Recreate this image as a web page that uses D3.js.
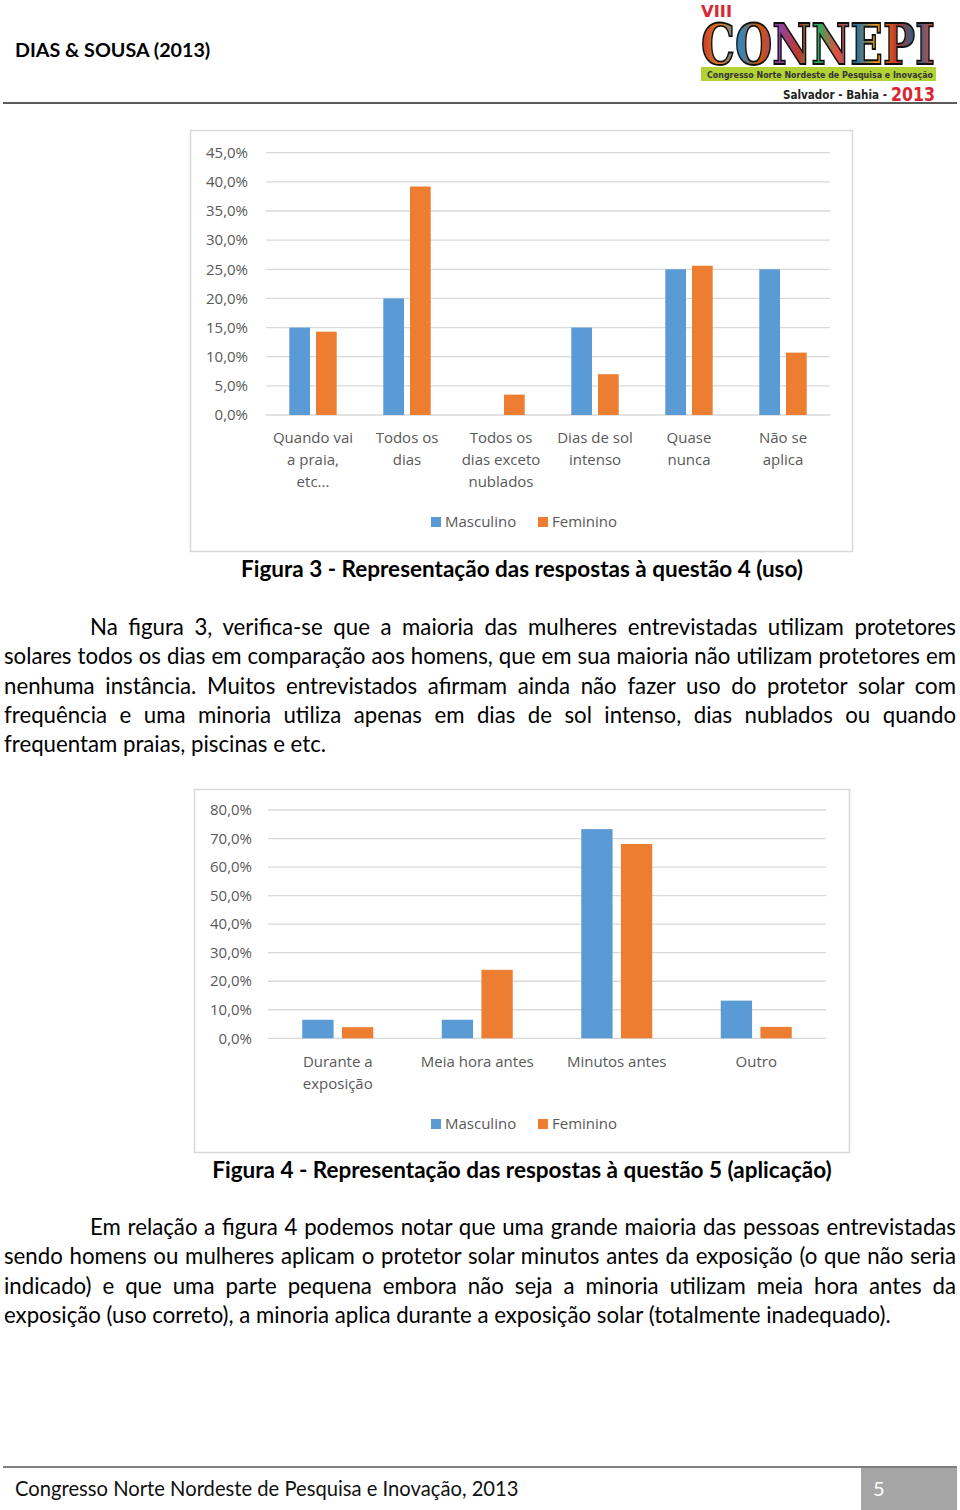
<!DOCTYPE html>
<html>
<head>
<meta charset="utf-8">
<script src="https://cdn.jsdelivr.net/npm/d3@7"></script>
<style>
  body { margin: 0; background: #fff; }
  #page { position: relative; width: 960px; height: 1510px; overflow: hidden; }
  #page svg { position: absolute; left: 0; top: 0; }
  .para-line { position: absolute; white-space: nowrap; font-family: Lato, sans-serif; color: #000;
    text-align: justify; text-align-last: justify; }
  .para-line.last { text-align: left; text-align-last: left; }
</style>
</head>
<body>
<div id="page"></div>
<script>
// Figura 3 - questão 4 (uso)
const cats1 = [["Quando vai", "a praia,", "etc..."], ["Todos os", "dias"], ["Todos os", "dias exceto", "nublados"],
  ["Dias de sol", "intenso"], ["Quase", "nunca"], ["Não se", "aplica"]];
const masc1 = [15.0, 20.0, 0, 15.0, 25.0, 25.0];
const fem1 = [14.3, 39.2, 3.5, 7.0, 25.6, 10.7];
const ticks1 = [0, 5, 10, 15, 20, 25, 30, 35, 40, 45];

// Figura 4 - questão 5 (aplicação)
const cats2 = [["Durante a", "exposição"], ["Meia hora antes"], ["Minutos antes"], ["Outro"]];
const masc2 = [6.5, 6.5, 73.3, 13.2];
const fem2 = [3.9, 24.0, 68.1, 4.0];
const ticks2 = [0, 10, 20, 30, 40, 50, 60, 70, 80];

const seriesNames = ["Masculino", "Feminino"];
const colors = ["#5b9bd5", "#ed7d31"];

const para1 = [
  "Na figura 3, verifica-se que a maioria das mulheres entrevistadas utilizam protetores",
  "solares todos os dias em comparação aos homens, que em sua maioria não utilizam protetores em",
  "nenhuma instância. Muitos entrevistados afirmam ainda não fazer uso do protetor solar com",
  "frequência e uma minoria utiliza apenas em dias de sol intenso, dias nublados ou quando",
  "frequentam praias, piscinas e etc."
];
const para2 = [
  "Em relação a figura 4 podemos notar que uma grande maioria das pessoas entrevistadas",
  "sendo homens ou mulheres aplicam o protetor solar minutos antes da exposição (o que não seria",
  "indicado) e que uma parte pequena embora não seja a minoria utilizam meia hora antes da",
  "exposição (uso correto), a minoria aplica durante a exposição solar (totalmente inadequado)."
];

const page = d3.select('#page');
const svg = page.append('svg').attr('width', 960).attr('height', 1510);

const fmt = v => d3.format('.1f')(v).replace('.', ',') + '%';

// Header
svg.append('text').attr('x', 15).attr('y', 57)
  .attr('font-family', 'Lato, sans-serif').attr('font-weight', 700).attr('font-size', 19.7)
  .text('DIAS & SOUSA (2013)');
svg.append('line').attr('x1', 3).attr('x2', 957).attr('y1', 103).attr('y2', 103)
  .attr('stroke', '#222').attr('stroke-width', 1.5);

drawLogo();

// Charts
drawChart({
  frame: [190.5, 130.5, 662, 421],
  x0: 266, x1: 830, yBase: 415, yTop: 152.7, yMax: 45,
  ticks: ticks1, labelX: 248, cats: cats1, values: [masc1, fem1],
  groupWidth: 47.4, pad: 0.225, labelY: 443, legendY: 522
});
drawChart({
  frame: [194.5, 789.5, 655, 363],
  x0: 268, x1: 826, yBase: 1038.3, yTop: 810, yMax: 80,
  ticks: ticks2, labelX: 252, cats: cats2, values: [masc2, fem2],
  groupWidth: 71, pad: 0.21, labelY: 1067, legendY: 1124
});

// Captions
svg.append('text').attr('x', 522).attr('y', 577).attr('text-anchor', 'middle')
  .attr('font-family', 'Lato, sans-serif').attr('font-weight', 700).attr('font-size', 22.5)
  .text('Figura 3 - Representação das respostas à questão 4 (uso)');
svg.append('text').attr('x', 522).attr('y', 1178).attr('text-anchor', 'middle')
  .attr('font-family', 'Lato, sans-serif').attr('font-weight', 700).attr('font-size', 22.5)
  .text('Figura 4 - Representação das respostas à questão 5 (aplicação)');

// Paragraphs
const paraSize = fitSize([para1, para2], 22.6);
drawParagraph(para1, 613, paraSize);
drawParagraph(para2, 1213, paraSize);

// Footer
svg.append('line').attr('x1', 3).attr('x2', 957).attr('y1', 1467).attr('y2', 1467)
  .attr('stroke', '#808080').attr('stroke-width', 2);
svg.append('rect').attr('x', 861).attr('y', 1468).attr('width', 96).attr('height', 42).attr('fill', '#a5a5a5');
svg.append('text').attr('x', 873).attr('y', 1496)
  .attr('font-family', 'Lato, sans-serif').attr('font-size', 20).attr('fill', '#fff').text('5');
svg.append('text').attr('x', 15).attr('y', 1496)
  .attr('font-family', 'Lato, sans-serif').attr('font-size', 20.2).attr('fill', '#111')
  .text('Congresso Norte Nordeste de Pesquisa e Inovação, 2013');

function drawChart(c) {
  const g = svg.append('g');
  g.append('rect').attr('x', c.frame[0]).attr('y', c.frame[1])
    .attr('width', c.frame[2]).attr('height', c.frame[3])
    .attr('fill', '#fff').attr('stroke', '#d9d9d9').attr('stroke-width', 1.5);

  const y = d3.scaleLinear().domain([0, c.yMax]).range([c.yBase, c.yTop]);
  const x = d3.scaleBand().domain(d3.range(c.cats.length)).range([c.x0, c.x1]);
  const bw = x.bandwidth();
  const xs = d3.scaleBand().domain([0, 1])
    .range([bw / 2 - c.groupWidth / 2, bw / 2 + c.groupWidth / 2]).paddingInner(c.pad);

  // gridlines
  g.selectAll('.grid').data(c.ticks).enter().append('line')
    .attr('x1', c.x0).attr('x2', c.x1)
    .attr('y1', d => y(d)).attr('y2', d => y(d))
    .attr('stroke', '#d9d9d9').attr('stroke-width', 1.3);

  // y labels
  g.selectAll('.ylab').data(c.ticks).enter().append('text')
    .attr('x', c.labelX).attr('y', d => y(d)).attr('dy', '0.35em')
    .attr('text-anchor', 'end')
    .attr('font-family', '"Open Sans", sans-serif').attr('font-size', 15).attr('fill', '#595959')
    .text(fmt);

  // bars
  const groups = g.selectAll('.grp').data(c.cats).enter().append('g')
    .attr('transform', (d, i) => `translate(${x(i)},0)`);
  groups.selectAll('rect').data((d, i) => c.values.map((s, k) => ({ k, v: s[i] })))
    .enter().append('rect')
    .attr('x', d => xs(d.k)).attr('width', xs.bandwidth())
    .attr('y', d => y(d.v)).attr('height', d => c.yBase - y(d.v))
    .attr('fill', d => colors[d.k]);

  // category labels
  groups.append('text')
    .attr('text-anchor', 'middle')
    .attr('font-family', '"Open Sans", sans-serif').attr('font-size', 15).attr('fill', '#595959')
    .selectAll('tspan').data(d => d).enter().append('tspan')
    .attr('x', bw / 2).attr('y', (d, j) => c.labelY + j * 22)
    .text(d => d);

  // legend
  const leg = g.selectAll('.leg').data(seriesNames).enter().append('g')
    .attr('transform', (d, i) => `translate(${431 + i * 107},${c.legendY})`);
  leg.append('rect').attr('x', 0).attr('y', -5).attr('width', 10).attr('height', 10)
    .attr('fill', (d, i) => colors[i]);
  leg.append('text').attr('x', 14).attr('y', 0).attr('dy', '0.35em')
    .attr('font-family', '"Open Sans", sans-serif').attr('font-size', 15).attr('fill', '#595959')
    .text(d => d);
}

// largest font size at which every justified line still fits its width
function fitSize(paras, maxSize) {
  const probe = page.append('span').style('position', 'absolute').style('visibility', 'hidden')
    .style('white-space', 'nowrap').style('font-family', 'Lato, sans-serif').style('font-size', '100px');
  let size = maxSize;
  paras.forEach(lines => lines.forEach((t, i) => {
    if (i === lines.length - 1) return;
    const avail = i === 0 ? 956 - 90 : 952;
    probe.text(t);
    const w = probe.node().getBoundingClientRect().width;
    size = Math.min(size, avail / w * 100 * 0.995);
  }));
  probe.remove();
  return size;
}

function drawParagraph(lines, top, size) {
  lines.forEach((t, i) => {
    const left = i === 0 ? 90 : 4;
    page.append('div')
      .attr('class', 'para-line' + (i === lines.length - 1 ? ' last' : ''))
      .style('left', left + 'px').style('top', (top + i * 29.3) + 'px')
      .style('width', (956 - left) + 'px')
      .style('font-size', size + 'px')
      .text(t);
  });
}

function drawLogo() {
  const lg = svg.append('g');
  const defs = svg.append('defs');
  const grad = defs.append('linearGradient').attr('id', 'logo-grad')
    .attr('x1', '0%').attr('x2', '100%').attr('y1', '0%').attr('y2', '0%');
  const stops = ['#c0392b', '#e67e22', '#2e86c1', '#d35400', '#8e44ad', '#c0392b',
    '#27ae60', '#e74c3c', '#2471a3', '#f39c12', '#c0392b', '#1f618d', '#e74c3c'];
  stops.forEach((s, i) => grad.append('stop')
    .attr('offset', (i / (stops.length - 1) * 100) + '%').attr('stop-color', s));

  // green band first so it never hides the lettering
  lg.append('rect').attr('x', 701).attr('y', 67).attr('width', 235).attr('height', 14).attr('fill', '#b3d235');
  lg.append('text').attr('x', 701).attr('y', 17)
    .attr('font-family', '"DejaVu Sans", sans-serif').attr('font-weight', 700).attr('font-size', 16)
    .attr('fill', '#d7282f').attr('textLength', 31).attr('lengthAdjust', 'spacingAndGlyphs').text('VIII');
  lg.append('text').attr('x', 701).attr('y', 64)
    .attr('font-family', '"DejaVu Serif", serif').attr('font-weight', 700).attr('font-size', 56)
    .attr('fill', 'url(#logo-grad)').attr('stroke', '#111').attr('stroke-width', 1.8)
    .attr('textLength', 234).attr('lengthAdjust', 'spacingAndGlyphs').text('CONNEPI');
  lg.append('text').attr('x', 707).attr('y', 77.5)
    .attr('font-family', '"DejaVu Sans", sans-serif').attr('font-weight', 700).attr('font-size', 9)
    .attr('fill', '#333').attr('textLength', 226).attr('lengthAdjust', 'spacingAndGlyphs')
    .text('Congresso Norte Nordeste de Pesquisa e Inovação');
  lg.append('text').attr('x', 783).attr('y', 99)
    .attr('font-family', '"DejaVu Sans", sans-serif').attr('font-weight', 700).attr('font-size', 11.5)
    .attr('fill', '#222').attr('textLength', 104).attr('lengthAdjust', 'spacingAndGlyphs')
    .text('Salvador - Bahia -');
  lg.append('text').attr('x', 891).attr('y', 101)
    .attr('font-family', '"DejaVu Sans", sans-serif').attr('font-weight', 700).attr('font-size', 19)
    .attr('fill', '#d7282f').attr('textLength', 44).attr('lengthAdjust', 'spacingAndGlyphs')
    .text('2013');
}
</script>
</body>
</html>
